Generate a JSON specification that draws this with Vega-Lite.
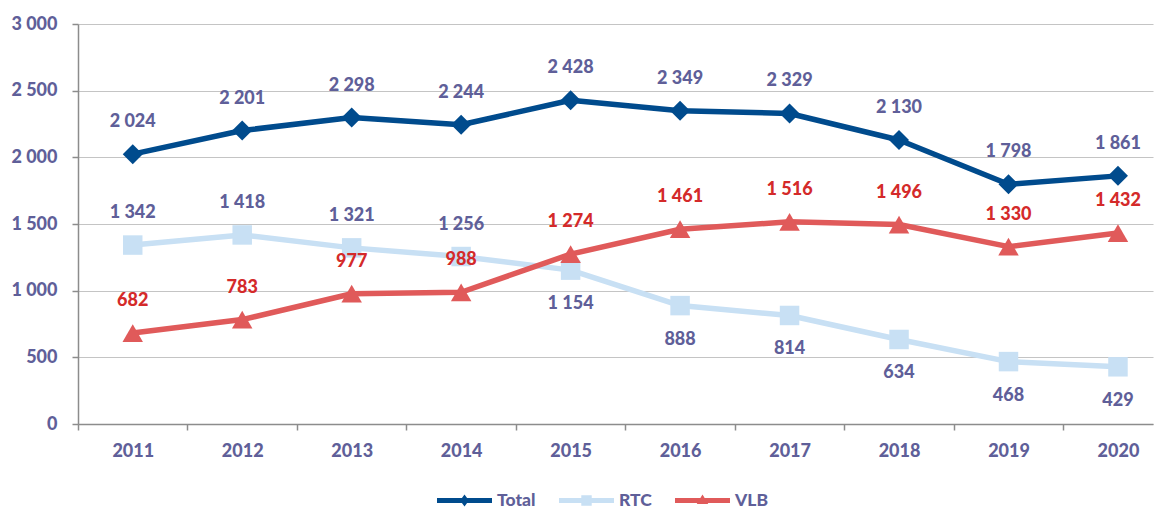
{
  "$schema": "https://vega.github.io/schema/vega-lite/v6.json",
  "autosize": "none",
  "width": 1075,
  "height": 400,
  "padding": {"left": 78, "top": 24, "right": 6, "bottom": 87},
  "background": "white",
  "config": {
    "locale": {"number": {"decimal": ",", "thousands": " ", "grouping": [3], "currency": ["", " €"]}},
    "font": "Lato",
    "view": {"stroke": null}
  },
  "data": {
    "values": [
      {"year": 2011, "series": "Total", "value": 2024},
      {"year": 2012, "series": "Total", "value": 2201},
      {"year": 2013, "series": "Total", "value": 2298},
      {"year": 2014, "series": "Total", "value": 2244},
      {"year": 2015, "series": "Total", "value": 2428},
      {"year": 2016, "series": "Total", "value": 2349},
      {"year": 2017, "series": "Total", "value": 2329},
      {"year": 2018, "series": "Total", "value": 2130},
      {"year": 2019, "series": "Total", "value": 1798},
      {"year": 2020, "series": "Total", "value": 1861},
      {"year": 2011, "series": "RTC", "value": 1342},
      {"year": 2012, "series": "RTC", "value": 1418},
      {"year": 2013, "series": "RTC", "value": 1321},
      {"year": 2014, "series": "RTC", "value": 1256},
      {"year": 2015, "series": "RTC", "value": 1154},
      {"year": 2016, "series": "RTC", "value": 888},
      {"year": 2017, "series": "RTC", "value": 814},
      {"year": 2018, "series": "RTC", "value": 634},
      {"year": 2019, "series": "RTC", "value": 468},
      {"year": 2020, "series": "RTC", "value": 429},
      {"year": 2011, "series": "VLB", "value": 682},
      {"year": 2012, "series": "VLB", "value": 783},
      {"year": 2013, "series": "VLB", "value": 977},
      {"year": 2014, "series": "VLB", "value": 988},
      {"year": 2015, "series": "VLB", "value": 1274},
      {"year": 2016, "series": "VLB", "value": 1461},
      {"year": 2017, "series": "VLB", "value": 1516},
      {"year": 2018, "series": "VLB", "value": 1496},
      {"year": 2019, "series": "VLB", "value": 1330},
      {"year": 2020, "series": "VLB", "value": 1432}
    ]
  },
  "encoding": {
    "x": {
      "field": "year",
      "type": "quantitative",
      "scale": {"domain": [2010.5, 2020.32], "nice": false, "zero": false},
      "axis": {
        "title": null,
        "values": [2010.5, 2011.5, 2012.5, 2013.5, 2014.5, 2015.5, 2016.5, 2017.5, 2018.5, 2019.5],
        "labelExpr": "'' + (datum.value + 0.5)",
        "labelOffset": 54.75,
        "labelFlush": false,
        "labelOverlap": false,
        "labelBound": false,
        "grid": false,
        "domainColor": "#8c8c8c",
        "domainWidth": 1.5,
        "tickColor": "#8c8c8c",
        "tickWidth": 1.5,
        "tickSize": 6,
        "labelPadding": 12,
        "labelFont": "Lato",
        "labelFontSize": 18,
        "labelFontWeight": 900,
        "labelColor": "#5f5f99"
      }
    },
    "y": {
      "field": "value",
      "type": "quantitative",
      "scale": {"domain": [0, 3000], "nice": false},
      "axis": {
        "title": null,
        "values": [0, 500, 1000, 1500, 2000, 2500, 3000],
        "format": ",d",
        "grid": true,
        "gridColor": "#c4c4c4",
        "gridWidth": 1.2,
        "domainColor": "#8c8c8c",
        "domainWidth": 1.5,
        "tickColor": "#8c8c8c",
        "tickWidth": 1.5,
        "tickSize": 6,
        "labelPadding": 15,
        "labelFont": "Lato",
        "labelFontSize": 18,
        "labelFontWeight": 900,
        "labelColor": "#5f5f99"
      }
    }
  },
  "layer": [
    {
      "mark": {"type": "line", "strokeWidth": 5.5, "strokeJoin": "round"},
      "encoding": {
        "color": {
          "field": "series",
          "type": "nominal",
          "scale": {"domain": ["Total", "RTC", "VLB"], "range": ["#004b8d", "#c8e0f4", "#e05a5a"]},
          "legend": {
            "title": null,
            "orient": "none",
            "direction": "horizontal",
            "legendX": 359,
            "legendY": 449,
            "columnPadding": 23,
            "labelOffset": 5,
            "labelFont": "Lato",
            "labelFontSize": 17.5,
            "labelFontWeight": 900,
            "labelColor": "#5f5f99",
            "symbolSize": 3025,
            "encode": {
              "symbols": {
                "update": {
                  "shape": {"signal": "datum.value === 'Total' ? 'M-1,-0.09H1V0.09H-1Z M0,-0.22L0.16,0L0,0.22L-0.16,0Z' : datum.value === 'RTC' ? 'M-1,-0.09H1V0.09H-1Z M-0.19,-0.19H0.19V0.19H-0.19Z' : 'M-1,-0.09H1V0.09H-1Z M0,-0.22L0.21,0.13H-0.21Z'"},
                  "fill": {"signal": "datum.value === 'Total' ? '#004b8d' : datum.value === 'RTC' ? '#c8e0f4' : '#e05a5a'"},
                  "fillOpacity": {"value": 1},
                  "strokeWidth": {"value": 0},
                  "size": {"value": 3025}
                }
              }
            }
          }
        },
        "order": {"field": "year"}
      }
    },
    {
      "transform": [{"filter": "datum.series === 'Total'"}],
      "mark": {"type": "point", "filled": true, "opacity": 1, "size": 400, "shape": "diamond", "color": "#004b8d"}
    },
    {
      "transform": [{"filter": "datum.series === 'RTC'"}],
      "mark": {"type": "point", "filled": true, "opacity": 1, "size": 380, "shape": "square", "color": "#c8e0f4"}
    },
    {
      "transform": [{"filter": "datum.series === 'VLB'"}],
      "mark": {"type": "point", "filled": true, "opacity": 1, "size": 420, "shape": "triangle-up", "color": "#e05a5a"}
    },
    {
      "transform": [{"filter": "!(datum.series === 'RTC' && datum.year >= 2015)"}],
      "mark": {"type": "text", "dy": -32, "baseline": "middle", "font": "Lato", "fontSize": 18, "fontWeight": 900},
      "encoding": {
        "text": {"field": "value", "type": "quantitative", "format": ",d"},
        "color": {
          "condition": {"test": "datum.series === 'VLB'", "value": "#d42a2a"},
          "value": "#5f5f99"
        }
      }
    },
    {
      "transform": [{"filter": "datum.series === 'RTC' && datum.year >= 2015"}],
      "mark": {"type": "text", "dy": 34, "baseline": "middle", "font": "Lato", "fontSize": 18, "fontWeight": 900, "color": "#5f5f99"},
      "encoding": {
        "text": {"field": "value", "type": "quantitative", "format": ",d"}
      }
    }
  ]
}
